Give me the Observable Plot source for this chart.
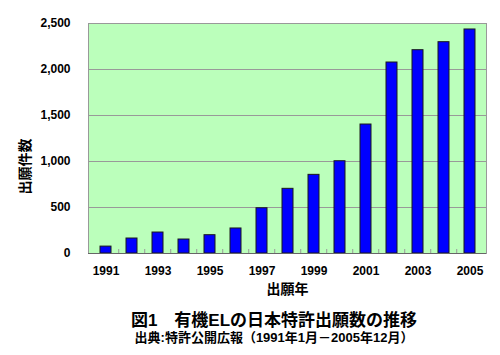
<!DOCTYPE html>
<html>
<head>
<meta charset="utf-8">
<script src="https://cdn.jsdelivr.net/npm/d3@7"></script>
<script src="https://cdn.jsdelivr.net/npm/@observablehq/plot@0.6"></script>
<style>
  body { margin: 0; background: #fff; width: 500px; font-family: 'Liberation Sans', 'Noto Sans CJK JP', sans-serif; }
  #title { font-weight: bold; font-size: 17px; line-height: 22px; margin-top: 10px; padding-left: 48px; text-align: center; color: #000; }
  #caption { font-weight: bold; font-size: 13px; line-height: 16px; margin-top: -2px; padding-left: 48px; text-align: center; color: #000; }
  svg { display: block; }
</style>
</head>
<body>
<div id="chart"></div>
<div id="title">図1　有機ELの日本特許出願数の推移</div>
<div id="caption">出典:特許公開広報（1991年1月－2005年12月）</div>
<script>
const years = [1991,1992,1993,1994,1995,1996,1997,1998,1999,2000,2001,2002,2003,2004,2005];
const counts = [75,163,228,152,199,272,492,703,855,1003,1402,2076,2210,2297,2435];
const xTickYears = [1991,1993,1995,1997,1999,2001,2003,2005];
const yTicks = [0,500,1000,1500,2000,2500];
const yLabel = "出願件数";
const xLabel = "出願年";

const data = years.map((y, i) => ({year: y, count: counts[i]}));
const step = (500 - 88 - 14) / years.length;

const chart = Plot.plot({
  width: 500,
  height: 300,
  marginTop: 23,
  marginLeft: 88,
  marginRight: 14,
  marginBottom: 47,
  style: {fontFamily: "'Liberation Sans', 'Noto Sans CJK JP', sans-serif", fontWeight: "bold", fontSize: "12px", color: "#000", background: "#fff"},
  x: {domain: years, paddingInner: 0.58, paddingOuter: 0.29},
  y: {domain: [0, 2500]},
  marks: [
    Plot.frame({fill: "#bbffbb", stroke: "#999"}),
    Plot.gridY(yTicks, {stroke: "#999", strokeOpacity: 1, strokeWidth: 1}),
    Plot.barY(data, {x: "year", y: "count", fill: "#0000ff", stroke: "#1a1a1a", strokeWidth: 1}),
    Plot.ruleY([0], {stroke: "#666", strokeWidth: 1.2}),
    Plot.axisX({ticks: years.slice(1), tickSize: -4, tickFormat: () => "", dx: -step / 2, stroke: "#999", label: null}),
    Plot.axisX({ticks: xTickYears, tickSize: 0, tickPadding: 13, fontSize: 12, label: null, tickFormat: d => String(d), style: "letter-spacing:0.6px"}),
    Plot.axisY({ticks: yTicks, tickSize: 0, tickPadding: 18, tickFormat: d3.format(","), fontSize: 12, label: null, style: "letter-spacing:0.6px"}),
    Plot.text([yLabel], {frameAnchor: "middle", textAnchor: "middle", rotate: -90, dx: -262, dy: 28, fontSize: 14, fontWeight: "bold"}),
    Plot.text([xLabel], {frameAnchor: "bottom", dy: 40, fontSize: 14, fontWeight: "bold"})
  ]
});
document.getElementById("chart").appendChild(chart);
</script>
</body>
</html>
